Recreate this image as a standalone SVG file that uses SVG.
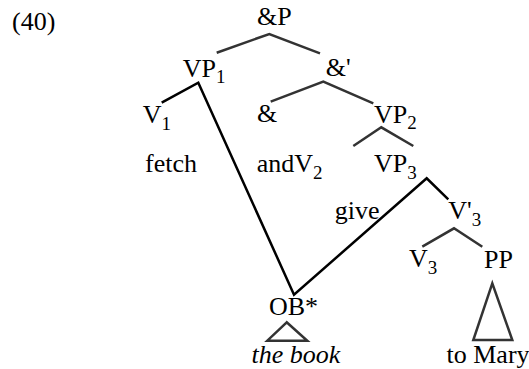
<svg xmlns="http://www.w3.org/2000/svg" width="529" height="369" viewBox="0 0 529 369">
<style>
.sub{font-size:19px}
.it{font-style:italic}
.t{stroke:#333;stroke-width:2.5;fill:none;stroke-linecap:butt}
.m{stroke:#000;stroke-width:2.5;fill:none;stroke-linejoin:miter}
</style>
<rect width="529" height="369" fill="#fff"/>
<g font-family="Liberation Serif, Times New Roman, serif" font-size="26" fill="#000">
<text x="12" y="30">(40)</text>
<g id="connectors">
<polyline class="t" points="216.7,52.7 269.3,34 320,53.3"/>
<polyline class="t" points="270.7,101.7 323.3,81.7 373.3,103.3"/>
<polyline class="t" points="353.3,146 381.3,127.3 413.3,146"/>
<polyline class="m" points="161.7,102.7 198.3,82.7 294,294.7 426.7,178.3 448.3,199.3"/>
<polyline class="t" points="422.3,246.7 454,228.3 482.3,246.7"/>
<polygon class="t" points="492.3,283.3 473.3,340 512.3,340"/>
<polygon class="t" points="286.7,322.3 267.3,340.7 307.3,340.7"/>
</g>
<g id="andP"><text x="257" y="25">&amp;P</text></g>
<g id="VP1"><text x="182.7" y="76.7">VP<tspan class="sub" dy="6">1</tspan></text></g>
<g id="andBar"><text x="325.7" y="76">&amp;'</text></g>
<g id="V1"><text x="142.7" y="123">V<tspan class="sub" dy="6.5">1</tspan></text></g>
<g id="and"><text x="257" y="122">&amp;</text></g>
<g id="VP2"><text x="374" y="122.7">VP<tspan class="sub" dy="6.5">2</tspan></text></g>
<g id="fetch"><text x="145" y="172">fetch</text></g>
<g id="andV2"><text x="256.7" y="172">andV<tspan class="sub" dy="6.5">2</tspan></text></g>
<g id="VP3"><text x="374" y="172">VP<tspan class="sub" dy="6.5">3</tspan></text></g>
<g id="give"><text x="334.7" y="219">give</text></g>
<g id="Vbar3"><text x="448.3" y="219">V'<tspan class="sub" dy="7">3</tspan></text></g>
<g id="V3"><text x="409" y="267">V<tspan class="sub" dy="7">3</tspan></text></g>
<g id="PP"><text x="484" y="268">PP</text></g>
<g id="OB"><text x="269" y="315">OB*</text></g>
<g id="thebook"><text class="it" x="251.5" y="363">the book</text></g>
<g id="toMary"><text x="446.5" y="363">to Mary</text></g>
</g>
</svg>
